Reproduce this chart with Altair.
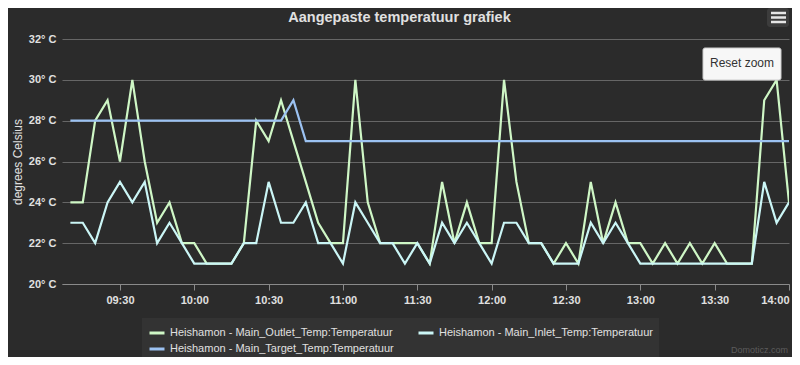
import altair as alt
import pandas as pd

# ---- data (5-minute samples) ----
times = [
    "09:10", "09:15", "09:20", "09:25", "09:30", "09:35", "09:40", "09:45", "09:50", "09:55",
    "10:00", "10:05", "10:10", "10:15", "10:20", "10:25", "10:30", "10:35", "10:40", "10:45",
    "10:50", "10:55", "11:00", "11:05", "11:10", "11:15", "11:20", "11:25", "11:30", "11:35",
    "11:40", "11:45", "11:50", "11:55", "12:00", "12:05", "12:10", "12:15", "12:20", "12:25",
    "12:30", "12:35", "12:40", "12:45", "12:50", "12:55", "13:00", "13:05", "13:10", "13:15",
    "13:20", "13:25", "13:30", "13:35", "13:40", "13:45", "13:50", "13:55", "14:00",
]
outlet = [
    24, 24, 28, 29, 26, 30, 26, 23, 24, 22,
    22, 21, 21, 21, 22, 28, 27, 29, 27, 25,
    23, 22, 22, 30, 24, 22, 22, 22, 22, 21,
    25, 22, 24, 22, 22, 30, 25, 22, 22, 21,
    22, 21, 25, 22, 24, 22, 22, 21, 22, 21,
    22, 21, 22, 21, 21, 21, 29, 30, 24,
]
inlet = [
    23, 23, 22, 24, 25, 24, 25, 22, 23, 22,
    21, 21, 21, 21, 22, 22, 25, 23, 23, 24,
    22, 22, 21, 24, 23, 22, 22, 21, 22, 21,
    23, 22, 23, 22, 21, 23, 23, 22, 22, 21,
    21, 21, 23, 22, 23, 22, 21, 21, 21, 21,
    21, 21, 21, 21, 21, 21, 25, 23, 24,
]
target = [
    28, 28, 28, 28, 28, 28, 28, 28, 28, 28,
    28, 28, 28, 28, 28, 28, 28, 28, 29, 27,
    27, 27, 27, 27, 27, 27, 27, 27, 27, 27,
    27, 27, 27, 27, 27, 27, 27, 27, 27, 27,
    27, 27, 27, 27, 27, 27, 27, 27, 27, 27,
    27, 27, 27, 27, 27, 27, 27, 27, 27,
]
series_names = [
    "Heishamon - Main_Outlet_Temp:Temperatuur",
    "Heishamon - Main_Inlet_Temp:Temperatuur",
    "Heishamon - Main_Target_Temp:Temperatuur",
]
series_colors = ["#cff7c6", "#cbf6f6", "#9cc2f2"]
tick_times = ["09:30", "10:00", "10:30", "11:00", "11:30", "12:00", "12:30", "13:00", "13:30", "14:00"]
y_ticks = [20, 22, 24, 26, 28, 30, 32]

DAY = "2024-01-01"

rows = []
for name, vals in zip(series_names, [outlet, inlet, target]):
    for t, v in zip(times, vals):
        rows.append({"time": f"{DAY}T{t}:00", "series": name, "value": v})
df = pd.DataFrame(rows)


def dt(hm, sec=0):
    h, m = hm.split(":")
    return alt.DateTime(year=2024, month=1, date=1, hours=int(h), minutes=int(m), seconds=sec)


FONT = "Liberation Sans"
TXT = "#e0e0e0"
BG = "#2b2b2b"

lines = alt.Chart(df).mark_line(strokeWidth=2.2, clip=True).encode(
    x=alt.X(
        "time:T",
        scale=alt.Scale(domain=[dt("09:06", 37), dt("14:00")]),
        axis=alt.Axis(
            title=None,
            values=[dt(t) for t in tick_times],
            format="%H:%M",
            grid=False,
            domainColor="#8a8a8a",
            tickColor="#8a8a8a",
            tickSize=6,
            labelColor=TXT,
            labelFont=FONT,
            labelFontSize=11,
            labelFontWeight="bold",
            labelPadding=4,
            labelFlush=True,
        ),
    ),
    y=alt.Y(
        "value:Q",
        scale=alt.Scale(domain=[20, 32], nice=False, zero=False),
        axis=alt.Axis(
            title="degrees Celsius",
            values=y_ticks,
            labelExpr="datum.value + '° C'",
            domain=False,
            ticks=False,
            grid=True,
            gridColor="#666666",
            gridWidth=1,
            labelColor=TXT,
            labelFont=FONT,
            labelFontSize=11,
            labelFontWeight="bold",
            labelPadding=6,
            titleColor=TXT,
            titleFont=FONT,
            titleFontSize=12,
            titleFontWeight="normal",
            titlePadding=4,
        ),
    ),
    color=alt.Color(
        "series:N",
        scale=alt.Scale(domain=series_names, range=series_colors),
        sort=series_names,
        legend=alt.Legend(
            title=None,
            orient="none",
            legendX=80,
            legendY=279,
            direction="horizontal",
            columns=2,
            symbolType="stroke",
            symbolStrokeWidth=3,
            symbolSize=225,
            labelColor=TXT,
            labelFont=FONT,
            labelFontSize=11,
            labelLimit=400,
            labelOffset=4,
            columnPadding=18,
            rowPadding=1,
            fillColor="#333333",
            padding=6,
        ),
    ),
)

one = pd.DataFrame({"k": [0]})

# Highcharts UI chrome: export menu button and "Reset zoom" button
menu_box = alt.Chart(one).mark_rect(fill="#3c3c3c", cornerRadius=3).encode(
    x=alt.value(705), x2=alt.value(727), y=alt.value(-31), y2=alt.value(-12)
)
menu_bars = [
    alt.Chart(one).mark_rule(color="#e6e6e6", strokeWidth=2.5).encode(
        x=alt.value(709), x2=alt.value(724), y=alt.value(yy)
    )
    for yy in (-26, -21.5, -17)
]
reset_box = alt.Chart(one).mark_rect(fill="#f7f7f7", stroke="#cccccc", cornerRadius=2).encode(
    x=alt.value(641), x2=alt.value(719), y=alt.value(9), y2=alt.value(41)
)
reset_text = alt.Chart(one).mark_text(
    text="Reset zoom", font=FONT, fontSize=12, color="#333333", align="center", baseline="middle"
).encode(x=alt.value(680), y=alt.value(24))
credit = alt.Chart(one).mark_text(
    text="Domoticz.com", font=FONT, fontSize=9, color="#5c5c5c", align="right", baseline="alphabetic"
).encode(x=alt.value(726), y=alt.value(314))

chart = alt.layer(lines, menu_box, *menu_bars, reset_box, reset_text, credit).properties(
    width=727,
    height=245,
    title=alt.TitleParams(
        text="Aangepaste temperatuur grafiek",
        anchor="middle",
        dx=-26,
        dy=11,
        font=FONT,
        fontSize=14.5,
        fontWeight="bold",
        color=TXT,
        offset=-6,
    ),
    autosize=alt.AutoSizeParams(type="none"),
    padding={"left": 54, "top": 31, "right": 3, "bottom": 73},
    background=BG,
).configure_view(stroke=None)

chart.save("out.html", embed_options={"renderer": "svg", "actions": False})
